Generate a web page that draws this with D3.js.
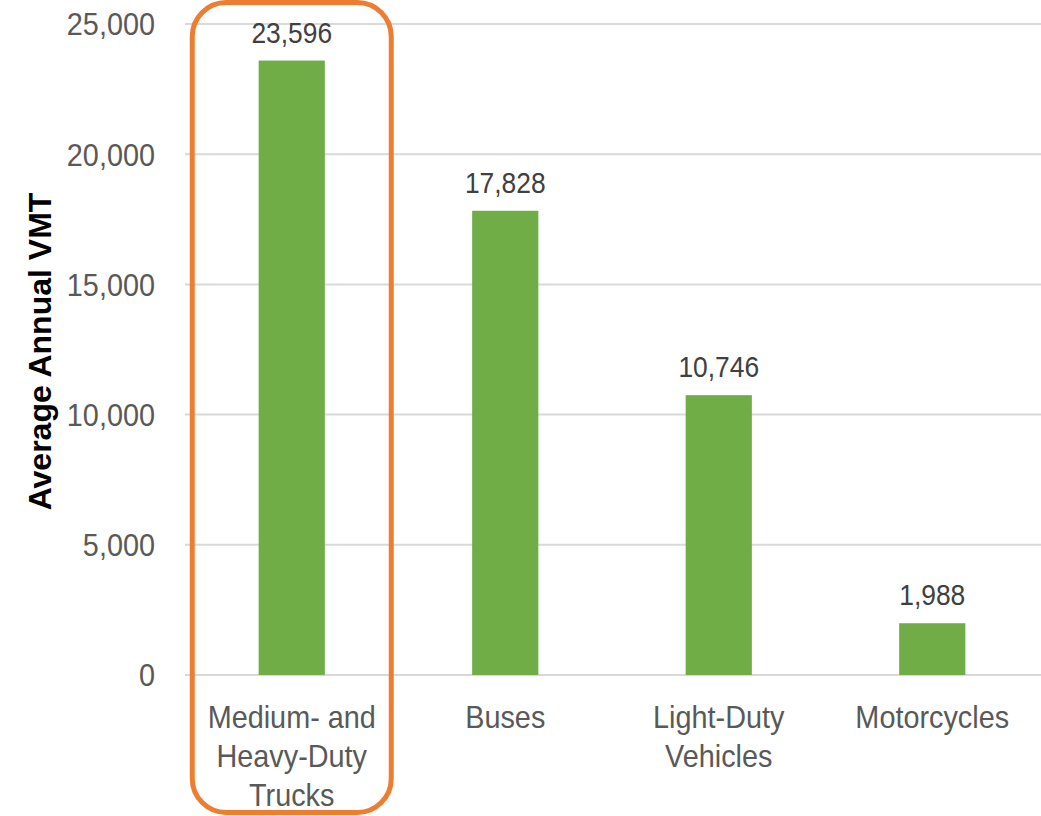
<!DOCTYPE html>
<html><head><meta charset="utf-8">
<script src="https://cdn.jsdelivr.net/npm/d3@7"></script>
<style>body{margin:0;background:#fff}svg{display:block}</style>
</head><body>
<svg id="c" width="1041" height="816"></svg>
<script>
const categories = [["Medium- and","Heavy-Duty","Trucks"],["Buses"],["Light-Duty","Vehicles"],["Motorcycles"]];
const values = [23596, 17828, 10746, 1988];
const tickValues = [0, 5000, 10000, 15000, 20000, 25000];
const yTitle = "Average Annual VMT";

(function(){
const svg = d3.select("#c");
const font = "'Liberation Sans Narrow','Arial Narrow','Liberation Sans',Arial,sans-serif";
const pLeft = 185, pRight = 1039, pTop = 24, pBottom = 675;
const keys = categories.map((d,i)=>i);
const x = d3.scaleBand().domain(keys).range([pLeft,pRight]).paddingInner(0.69).paddingOuter(0.345);
const y = d3.scaleLinear().domain([0,25000]).range([pBottom,pTop]);
const cx = i => x(i)+x.bandwidth()/2;
const squeeze = (xc,s) => `translate(${xc},0) scale(${s},1) translate(${-xc},0)`;

svg.append("g").selectAll("line").data(tickValues).join("line")
  .attr("x1",pLeft).attr("x2",pRight+2).attr("y1",d=>y(d)).attr("y2",d=>y(d))
  .attr("stroke","#d9d9d9").attr("stroke-width",2);

const yAxis = d3.axisLeft(y).tickValues(tickValues).tickFormat(d3.format(",")).tickSize(0).tickPadding(0);
const ga = svg.append("g").attr("transform",`translate(${pLeft-30},0)`).call(yAxis);
ga.select(".domain").remove();
ga.selectAll("text").attr("font-family",font).attr("font-size",31).attr("fill","#595959")
  .attr("dy","0.35em").attr("transform","scale(0.93,1)");

svg.append("g").selectAll("rect").data(values).join("rect")
  .attr("x",(d,i)=>x(i)).attr("width",x.bandwidth())
  .attr("y",d=>y(d)).attr("height",d=>y(0)-y(d)).attr("fill","#70AD47");

svg.append("g").selectAll("text").data(values).join("text")
  .attr("x",(d,i)=>cx(i)).attr("y",d=>y(d)-18)
  .attr("transform",(d,i)=>squeeze(cx(i),0.91))
  .attr("text-anchor","middle").attr("font-family",font).attr("font-size",29)
  .attr("fill","#404040").text(d=>d3.format(",")(d));

const cg = svg.append("g").selectAll("text").data(categories).join("text")
  .attr("x",(d,i)=>cx(i)).attr("y",728)
  .attr("transform",(d,i)=>squeeze(cx(i),0.93))
  .attr("text-anchor","middle").attr("font-family",font).attr("font-size",31).attr("fill","#595959");
cg.selectAll("tspan").data((d,i)=>d.map(t=>({t,i}))).join("tspan")
  .attr("x",d=>cx(d.i)).attr("dy",(d,j)=>j===0?0:39).text(d=>d.t);

svg.append("text").attr("transform",`translate(51,${(195+508)/2}) rotate(-90)`)
  .attr("text-anchor","middle").attr("font-family","'Liberation Sans',Arial,sans-serif")
  .attr("font-weight","bold").attr("font-size",32).attr("fill","#000").text(yTitle);

svg.append("rect").attr("x",cx(0)-99.5).attr("y",2.5).attr("width",199).attr("height",810)
  .attr("rx",34).attr("fill","none").attr("stroke","#ED7D31").attr("stroke-width",5);
})();
</script>
</body></html>
